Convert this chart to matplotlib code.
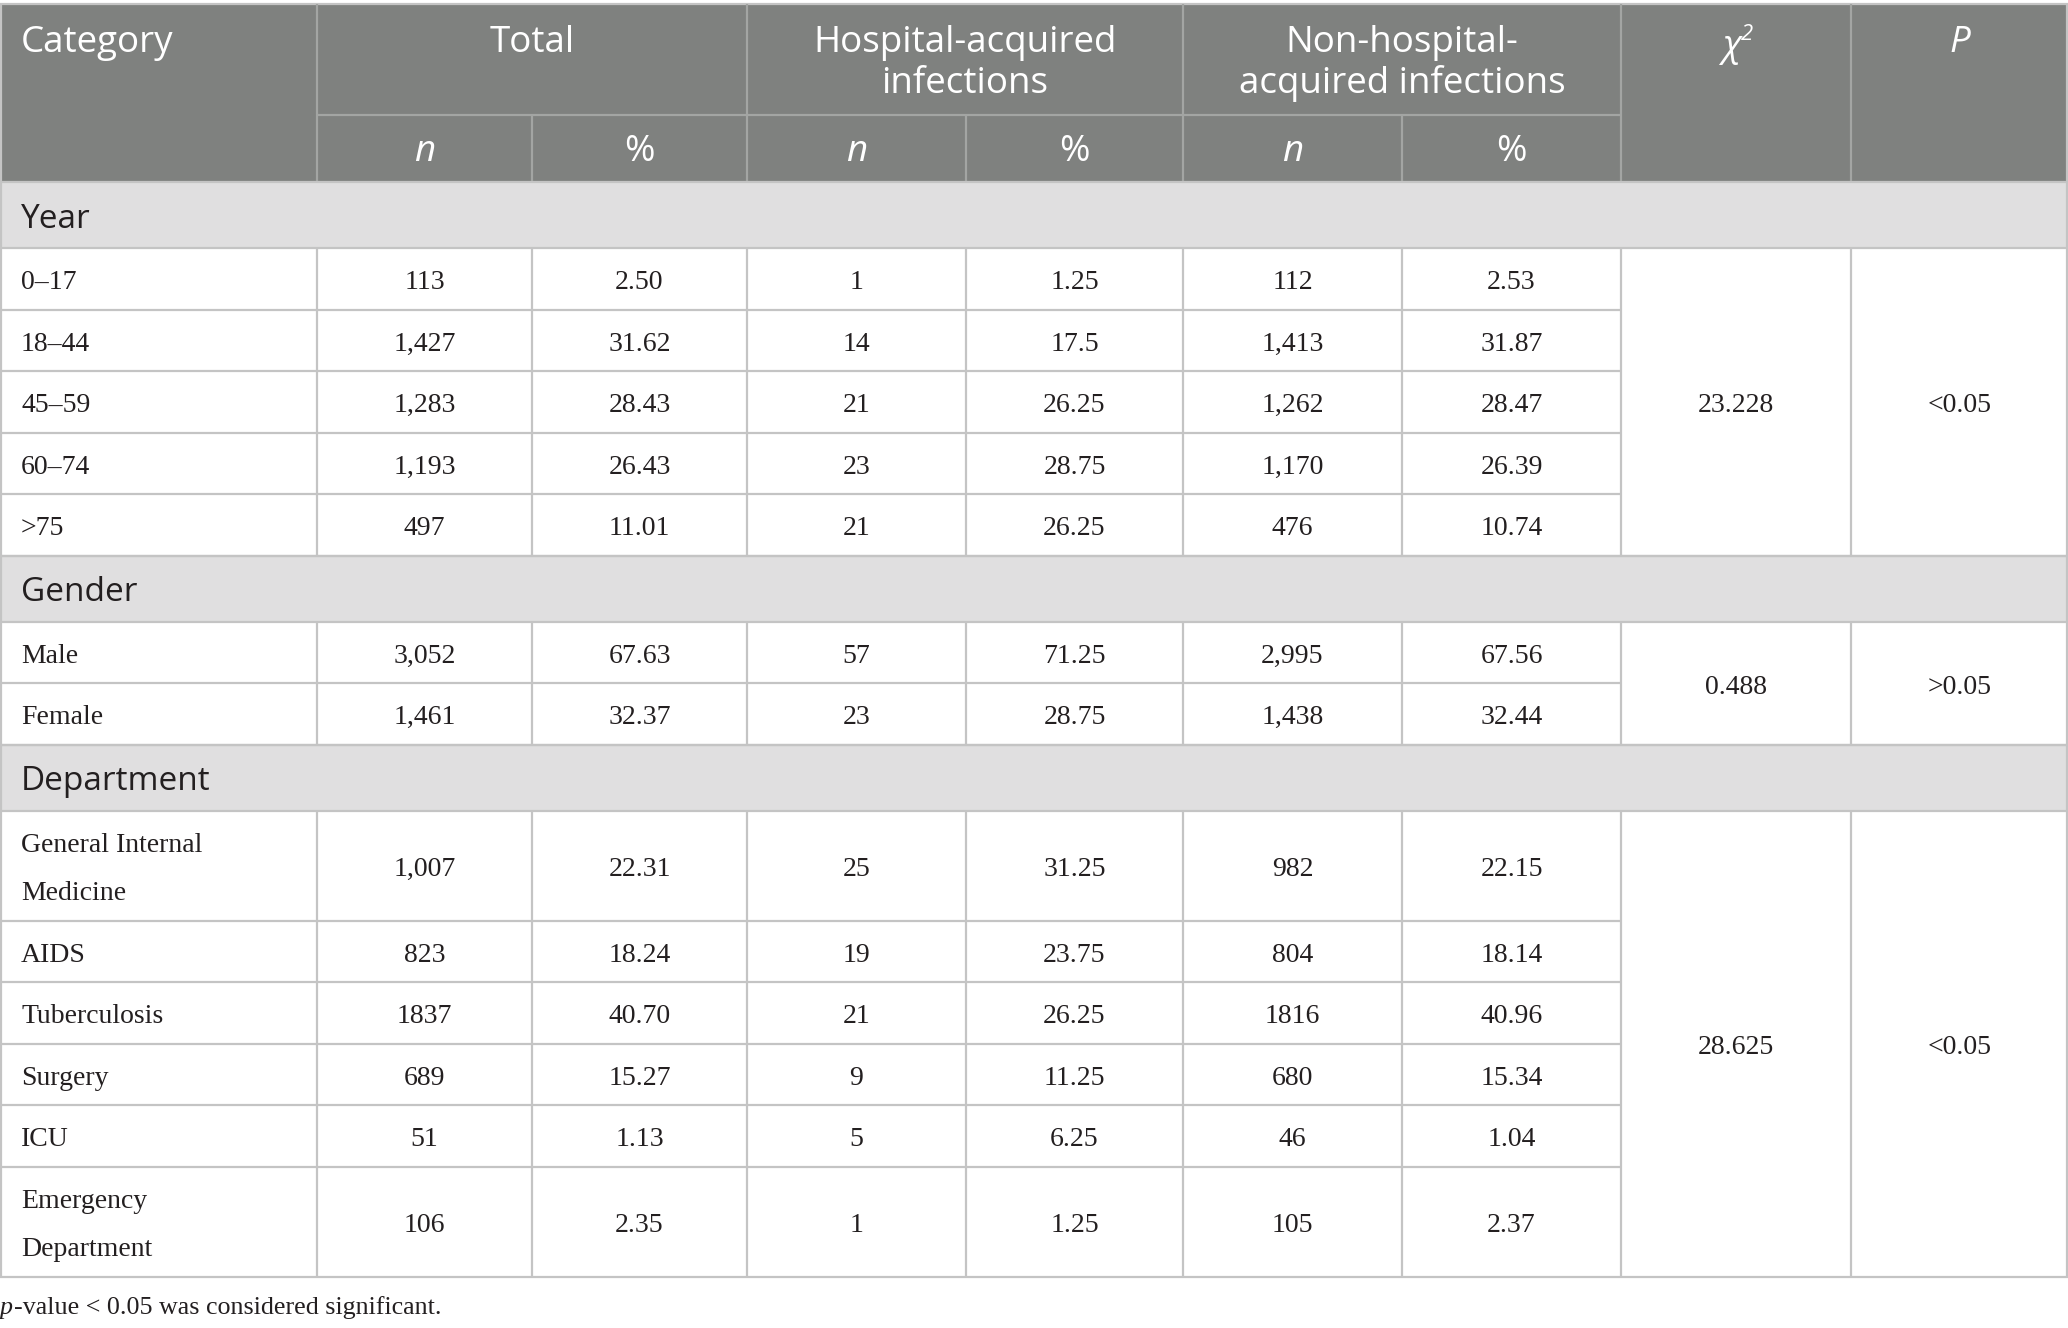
import matplotlib
matplotlib.use("Agg")
import matplotlib.pyplot as plt
from matplotlib.patches import Rectangle

# ---------------- data ----------------
columns_top = ["Category", "Total", "Hospital-acquired\ninfections",
               "Non-hospital-\nacquired infections", "χ", "P"]
sub_headers = ["n", "%", "n", "%", "n", "%"]

section_names = ["Year", "Gender", "Department"]

age_groups = ["0–17", "18–44", "45–59", "60–74", ">75"]
age_total_n = ["113", "1,427", "1,283", "1,193", "497"]
age_total_pct = ["2.50", "31.62", "28.43", "26.43", "11.01"]
age_hai_n = ["1", "14", "21", "23", "21"]
age_hai_pct = ["1.25", "17.5", "26.25", "28.75", "26.25"]
age_non_n = ["112", "1,413", "1,262", "1,170", "476"]
age_non_pct = ["2.53", "31.87", "28.47", "26.39", "10.74"]
age_chi2 = "23.228"
age_p = "<0.05"

gender_groups = ["Male", "Female"]
gender_total_n = ["3,052", "1,461"]
gender_total_pct = ["67.63", "32.37"]
gender_hai_n = ["57", "23"]
gender_hai_pct = ["71.25", "28.75"]
gender_non_n = ["2,995", "1,438"]
gender_non_pct = ["67.56", "32.44"]
gender_chi2 = "0.488"
gender_p = ">0.05"

dept_groups = ["General Internal\nMedicine", "AIDS", "Tuberculosis", "Surgery",
               "ICU", "Emergency\nDepartment"]
dept_total_n = ["1,007", "823", "1837", "689", "51", "106"]
dept_total_pct = ["22.31", "18.24", "40.70", "15.27", "1.13", "2.35"]
dept_hai_n = ["25", "19", "21", "9", "5", "1"]
dept_hai_pct = ["31.25", "23.75", "26.25", "11.25", "6.25", "1.25"]
dept_non_n = ["982", "804", "1816", "680", "46", "105"]
dept_non_pct = ["22.15", "18.14", "40.96", "15.34", "1.04", "2.37"]
dept_chi2 = "28.625"
dept_p = "<0.05"

footnote_italic = "p"
footnote_rest = "-value < 0.05 was considered significant."

sections = [
    (section_names[0], age_groups,
     [age_total_n, age_total_pct, age_hai_n, age_hai_pct, age_non_n, age_non_pct],
     age_chi2, age_p),
    (section_names[1], gender_groups,
     [gender_total_n, gender_total_pct, gender_hai_n, gender_hai_pct, gender_non_n, gender_non_pct],
     gender_chi2, gender_p),
    (section_names[2], dept_groups,
     [dept_total_n, dept_total_pct, dept_hai_n, dept_hai_pct, dept_non_n, dept_non_pct],
     dept_chi2, dept_p),
]

# ---------------- layout ----------------
W, H = 2068, 1328
xs = [0, 317, 532, 747, 966, 1183, 1402, 1621, 1851, 2068]
y_top, y_h1, y_h2 = 4, 115, 182
band_h = 66
row_h = 61.5
tall_h = 110

HDR_BG = "#7f817f"
BAND_BG = "#e0dfe0"
GRID = "#c4c4c4"
HDR_LINE = "#a3a5a3"
TXT = "#231f20"

SANS = "Open Sans"
SERIF = "Liberation Serif"
hdr_fs = 26.5
band_fs = 24
body_fs = 20
foot_fs = 18.7
lw = 1.6
dy = 4  # small downward shift for visual centering

fig = plt.figure(figsize=(W / 100, H / 100), dpi=100)
ax = fig.add_axes([0, 0, 1, 1])
ax.set_xlim(0, W)
ax.set_ylim(H, 0)
ax.axis("off")


def hline(y, x0, x1, c=GRID):
    ax.plot([x0, x1], [y, y], color=c, lw=lw, solid_capstyle="butt", zorder=3)


def vline(x, y0, y1, c=GRID):
    ax.plot([x, x], [y0, y1], color=c, lw=lw, solid_capstyle="butt", zorder=3)


# header background
ax.add_patch(Rectangle((0, y_top), W, y_h2 - y_top, color=HDR_BG, zorder=1, lw=0))
hline(y_top, 0, W, c=GRID)
hline(y_h1, xs[1], xs[7], c=HDR_LINE)
for x in [xs[1], xs[3], xs[5], xs[7], xs[8]]:
    vline(x, y_top, y_h2, c=HDR_LINE)
for x in [xs[2], xs[4], xs[6]]:
    vline(x, y_h1, y_h2, c=HDR_LINE)
vline(1, y_top, y_h2, c=GRID)
vline(W - 1, y_top, y_h2, c=GRID)

# header texts
l1, l2 = 43, 84
ax.text(21, l1, columns_top[0], fontsize=hdr_fs, family=SANS, color="white",
        ha="left", va="center")
for i, lab in enumerate(columns_top[1:4]):
    cx = (xs[1 + 2 * i] + xs[3 + 2 * i]) / 2
    lines = lab.split("\n")
    for k, line in enumerate(lines):
        ax.text(cx, (l1, l2)[k], line, fontsize=hdr_fs, family=SANS, color="white",
                ha="center", va="center")
cx = (xs[7] + xs[8]) / 2
ax.text(cx - 5, l1 + 4, columns_top[4], fontsize=hdr_fs, family=SANS, style="italic",
        color="white", ha="center", va="center")
ax.text(cx + 11, l1 - 9, "2", fontsize=hdr_fs * 0.6, family=SANS, style="italic",
        color="white", ha="center", va="center")
cx = (xs[8] + xs[9]) / 2
ax.text(cx, l1, columns_top[5], fontsize=hdr_fs, family=SANS, style="italic",
        color="white", ha="center", va="center")
for j, lab in enumerate(sub_headers):
    cx = (xs[1 + j] + xs[2 + j]) / 2
    ax.text(cx, 152, lab, fontsize=hdr_fs, family=SANS,
            style="italic" if lab == "n" else "normal",
            color="white", ha="center", va="center")

# body
y = y_h2
for name, groups, cols, chi2, p in sections:
    ax.add_patch(Rectangle((0, y), W, band_h, color=BAND_BG, zorder=1, lw=0))
    ax.text(21, y + band_h / 2 + dy, name, fontsize=band_fs, family=SANS, color=TXT,
            ha="left", va="center")
    hline(y, 0, W)
    vline(1, y, y + band_h)
    vline(W - 1, y, y + band_h)
    y += band_h
    hline(y, 0, W)
    g_top = y
    for r, lab in enumerate(groups):
        h = tall_h if "\n" in lab else row_h
        cy = y + h / 2 + dy
        ax.text(21, cy, lab, fontsize=body_fs, family=SERIF, color=TXT,
                ha="left", va="center", linespacing=2.2)
        for j, col in enumerate(cols):
            cx = (xs[1 + j] + xs[2 + j]) / 2
            ax.text(cx, cy, col[r], fontsize=body_fs, family=SERIF, color=TXT,
                    ha="center", va="center")
        if r > 0:
            hline(y, 0, xs[7])
        y += h
    g_bot = y
    for x in xs[1:-1]:
        vline(x, g_top, g_bot)
    vline(1, g_top, g_bot)
    vline(W - 1, g_top, g_bot)
    hline(g_bot, 0, W)
    gy = (g_top + g_bot) / 2 + dy
    ax.text((xs[7] + xs[8]) / 2, gy, chi2, fontsize=body_fs, family=SERIF, color=TXT,
            ha="center", va="center")
    ax.text((xs[8] + xs[9]) / 2, gy, p, fontsize=body_fs, family=SERIF, color=TXT,
            ha="center", va="center")

# footnote
fy = 1308
t1 = ax.text(0, fy, footnote_italic, fontsize=foot_fs, family=SERIF, style="italic",
             color=TXT, ha="left", va="center")
fig.canvas.draw()
bb = t1.get_window_extent(renderer=fig.canvas.get_renderer())
x_end = ax.transData.inverted().transform((bb.x1, bb.y0))[0]
ax.text(x_end + 1, fy, footnote_rest, fontsize=foot_fs, family=SERIF, color=TXT,
        ha="left", va="center")

fig.savefig("out.png", dpi=100, facecolor="white")
